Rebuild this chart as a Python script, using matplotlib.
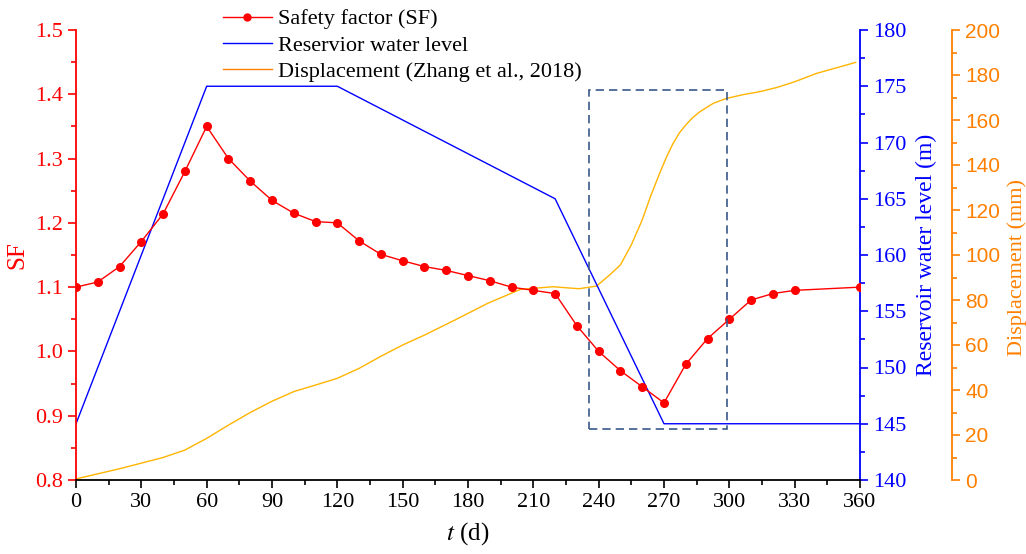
import matplotlib
matplotlib.use('Agg')
import numpy as np
import matplotlib.pyplot as plt
from matplotlib.lines import Line2D
from matplotlib.patches import Rectangle
from matplotlib.ticker import MultipleLocator

plt.rcParams['font.family'] = ['Liberation Serif', 'DejaVu Serif']
plt.rcParams['mathtext.fontset'] = 'stix'

# Safety factor (SF)
sf_t = [0, 10, 20, 30, 40, 50, 60, 70, 80, 90, 100, 110, 120, 130, 140, 150, 160, 170,
        180, 190, 200, 210, 220, 230, 240, 250, 260, 270, 280, 290, 300, 310, 320, 330, 360]
sf = [1.100, 1.108, 1.132, 1.171, 1.214, 1.280, 1.350, 1.300, 1.265, 1.235, 1.215, 1.202,
      1.200, 1.172, 1.151, 1.141, 1.132, 1.126, 1.118, 1.110, 1.100, 1.095, 1.090, 1.040,
      1.000, 0.970, 0.945, 0.920, 0.980, 1.020, 1.050, 1.080, 1.090, 1.095, 1.100]

# Reservoir water level (m)
wl_t = [0, 60, 120, 220, 270, 360]
wl = [145, 175, 175, 165, 145, 145]

# Displacement (mm), Zhang et al., 2018
disp_t = [0, 20, 40, 50, 60, 70, 80, 90, 100, 110, 120, 130, 140, 150, 160, 174, 189,
          204, 219, 231, 239, 245, 250, 255, 260, 264, 268, 271, 274, 277, 280, 283,
          286.5, 292.6, 298.7, 306, 314, 322, 330, 340, 358]
disp = [0.5, 5, 10, 13.3, 18.5, 24.4, 30, 35, 39.3, 42.2, 45.2, 49.6, 55, 60, 64.4, 71.1,
        78.5, 84.7, 85.9, 85.0, 86.2, 91.1, 95.6, 104.5, 115.6, 126.5, 136.3, 143.2, 149.3,
        154.2, 157.8, 160.9, 163.7, 167.4, 169.6, 171.2, 172.6, 174.5, 177, 180.7, 185.6]

# highlighted drawdown window
box_t = (235.7, 298.9)
box_sf = (0.880, 1.406)

RED = '#FF0000'
BLUE = '#0000FF'
ORANGE = '#FF8000'
YELLOW = '#FFB400'

fig = plt.figure(figsize=(10.26, 5.54), dpi=100)
ax = fig.add_axes([76/1026, 1 - 480/554, 784/1026, 450/554])
ax2 = ax.twinx()
ax3 = ax.twinx()

ax3.plot(disp_t, disp, color=YELLOW, lw=1.0)
ax2.plot(wl_t, wl, color=BLUE, lw=1.0)
ax.plot(sf_t, sf, color=RED, lw=1.0, marker='o', ms=5.5, zorder=5)
ax.set_zorder(3)
ax.patch.set_visible(False)
ax2.set_zorder(2)
ax3.set_zorder(1)

ax.add_patch(Rectangle((box_t[0], box_sf[0]), box_t[1] - box_t[0], box_sf[1] - box_sf[0],
                       fill=False, ls=(0, (5, 3)), lw=1.2, ec='#3A5A8A', zorder=6))

ax.set_xlim(0, 360)
ax.set_ylim(0.8, 1.5)
ax2.set_ylim(140, 180)
ax3.set_ylim(0, 200)

ax.xaxis.set_major_locator(MultipleLocator(30))
ax.xaxis.set_minor_locator(MultipleLocator(15))
ax.yaxis.set_major_locator(MultipleLocator(0.1))
ax.yaxis.set_minor_locator(MultipleLocator(0.05))
ax2.yaxis.set_major_locator(MultipleLocator(5))
ax2.yaxis.set_minor_locator(MultipleLocator(2.5))
ax3.yaxis.set_major_locator(MultipleLocator(20))
ax3.yaxis.set_minor_locator(MultipleLocator(10))

for a in (ax, ax2, ax3):
    a.spines['top'].set_visible(False)
    a.tick_params(which='major', direction='out', length=6, width=1.2, labelsize=16)
    a.tick_params(which='minor', direction='out', length=3.5, width=1.2)

ax.spines['left'].set_color(RED)
ax.spines['left'].set_linewidth(1.3)
ax.spines['bottom'].set_linewidth(1.3)
ax.spines['right'].set_visible(False)
ax.tick_params(axis='y', which='both', colors=RED)
ax.yaxis.set_major_formatter(plt.FuncFormatter(lambda v, p: f'{v:.1f}'))

ax2.spines['right'].set_color(BLUE)
ax2.spines['right'].set_linewidth(1.3)
for s in ('left', 'bottom'):
    ax2.spines[s].set_visible(False)
    ax3.spines[s].set_visible(False)
ax2.tick_params(axis='y', which='both', colors=BLUE)

ax3.spines['right'].set_position(('axes', 1 + 92/784))
ax3.spines['right'].set_color(ORANGE)
ax3.spines['right'].set_linewidth(1.3)
ax3.tick_params(axis='y', which='both', colors=ORANGE)
for lab in ax3.get_yticklabels():
    lab.set_family('Liberation Sans')
    lab.set_fontsize(15)

ax.set_xlabel('$t$ (d)', fontsize=18)
ax.set_ylabel('SF', fontsize=18, color=RED)
ax2.set_ylabel('Reservoir water level (m)', fontsize=17, color=BLUE)
ax3.set_ylabel('Displacement (mm)', fontsize=16, color=ORANGE)
ax.xaxis.set_label_coords(0.5, -0.089)
ax.yaxis.set_label_coords(-0.061, 0.5)
ax2.yaxis.set_label_coords(1.0714, 0.5)
ax3.yaxis.set_label_coords(1.1875, 0.473)

handles = [Line2D([], [], color=RED, lw=1.0, marker='o', ms=5),
           Line2D([], [], color=BLUE, lw=1.0),
           Line2D([], [], color=ORANGE, lw=1.0)]
labels = ['Safety factor (SF)', 'Reservior water level', 'Displacement (Zhang et al., 2018)']
fig.legend(handles, labels, loc='upper left', bbox_to_anchor=(214/1026, 1.0),
           frameon=False, fontsize=16, handlelength=2.2, handletextpad=0.3,
           labelspacing=0.25, borderaxespad=0.0)

fig.savefig('out.png', dpi=100)
